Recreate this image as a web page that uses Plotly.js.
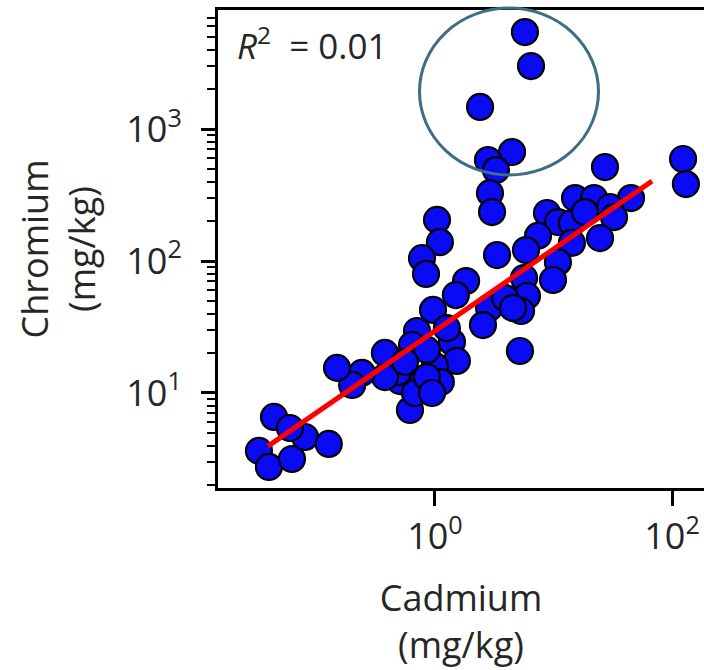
<!DOCTYPE html>
<html>
<head>
<meta charset="utf-8">
<script src="https://cdn.plot.ly/plotly-3.0.1.min.js"></script>
<style>
  html, body { margin: 0; padding: 0; background: #ffffff; }
  #chart { width: 704px; height: 670px; }
</style>
</head>
<body>
<div id="chart"></div>
<script>
// Soil sample concentrations (mg/kg)
const cadmium = [
  5.74, 6.46, 2.40, 4.47, 2.80, 3.27, 2.91, 3.03, 1.04, 1.10,
  0.777, 0.84, 3.34, 27.2, 124, 131, 15.2, 22.0, 45.1, 30.0,
  8.81, 10.9, 14.3, 32.4, 24.7, 7.40, 5.86, 14.3, 10.9, 5.64,
  9.9, 5.97, 5.32, 5.21, 1.83, 1.50, 0.962, 2.86, 2.54, 1.39,
  1.53, 1.0, 0.705, 0.64, 0.378, 0.855, 0.507, 1.12, 0.487, 0.777,
  0.615, 0.378, 0.242, 0.20, 0.149, 0.678, 0.855, 0.0438, 0.0327, 0.0397,
  0.0621, 0.080, 0.127, 0.0597, 0.944, 1.26, 3.90, 4.55, 18.4, 0.558
];
const chromium = [
  5430, 3000, 1470, 670, 582, 489, 327, 235, 205, 139,
  105, 79.8, 111, 515, 593, 383, 300, 300, 300, 256,
  231, 197, 194, 215, 149, 155, 121, 137, 98, 74.3,
  71.8, 54.3, 41.8, 20.8, 70.5, 55.2, 42.6, 44.1, 32.7, 24.3,
  17.5, 16.0, 29.5, 23.1, 20.1, 21.2, 12.3, 12.1, 14.4, 11.9,
  7.43, 13.2, 14.2, 11.5, 15.5, 10.0, 13.2, 6.58, 3.64, 2.75,
  3.16, 4.64, 4.11, 5.43, 10.0, 31.0, 52.5, 44.1, 235, 17.2
];

// Fitted trend line end points (mg/kg)
const fitCadmium = [0.039, 67.8];
const fitChromium = [3.96, 403];

const rSquared = '0.01';

// Tick labels
const xTickVals = [1, 100];
const xTickText = ['10<sup>0</sup>', '10<sup>2</sup>'];
const yTickVals = [10, 100, 1000];
const yTickText = ['10<sup>1</sup>', '10<sup>2</sup>', '10<sup>3</sup>'];

// Minor ticks at 2..9 within each decade of the chromium axis
const yMinorVals = [];
[1, 10, 100, 1000].forEach(function (d) {
  for (let k = 2; k <= 9; k++) yMinorVals.push(k * d);
});

const textColor = '#262626';
const fontFamily = '"Open Sans", "Noto Sans", "DejaVu Sans", sans-serif';

const traces = [
  {
    x: cadmium,
    y: chromium,
    type: 'scatter',
    mode: 'markers',
    marker: {
      size: 26,
      color: '#0a0af5',
      line: { color: '#000000', width: 2.2 }
    },
    cliponaxis: false,
    hoverinfo: 'x+y'
  },
  {
    x: fitCadmium,
    y: fitChromium,
    type: 'scatter',
    mode: 'lines',
    line: { color: '#ff0000', width: 5 },
    hoverinfo: 'skip'
  }
];

const layout = {
  width: 704,
  height: 670,
  margin: { l: 218, r: 0, t: 10, b: 182, pad: 0 },
  paper_bgcolor: '#ffffff',
  plot_bgcolor: '#ffffff',
  showlegend: false,
  font: { family: fontFamily, color: textColor, size: 36 },
  xaxis: {
    type: 'log',
    range: [-1.831, 2.270],
    tickmode: 'array',
    tickvals: xTickVals,
    ticktext: xTickText,
    ticks: 'outside',
    ticklen: 15,
    tickwidth: 3,
    tickcolor: '#000000',
    showline: true,
    linewidth: 3,
    linecolor: '#000000',
    mirror: true,
    showgrid: false,
    zeroline: false,
    automargin: false,
    tickfont: { family: fontFamily, size: 36, color: textColor },
    title: {
      text: 'Cadmium<br>(mg/kg)',
      font: { family: fontFamily, size: 36, color: textColor },
      standoff: 27
    }
  },
  yaxis: {
    type: 'log',
    range: [0.280, 3.902],
    tickmode: 'array',
    tickvals: yTickVals,
    ticktext: yTickText,
    ticks: 'outside',
    ticklen: 14,
    tickwidth: 3,
    tickcolor: '#000000',
    ticklabelstandoff: 12,
    minor: {
      tickmode: 'array',
      tickvals: yMinorVals,
      ticks: 'outside',
      ticklen: 8,
      tickwidth: 2,
      tickcolor: '#000000',
      showgrid: false
    },
    showline: true,
    linewidth: 3,
    linecolor: '#000000',
    mirror: false,
    showgrid: false,
    zeroline: false,
    automargin: false,
    tickfont: { family: fontFamily, size: 36, color: textColor },
    title: {
      text: 'Chromium<br>(mg/kg)',
      font: { family: fontFamily, size: 36, color: textColor },
      standoff: 20
    }
  },
  annotations: [
    {
      xref: 'paper', yref: 'paper',
      x: 0.035, y: 0.93,
      xanchor: 'left', yanchor: 'middle',
      text: '<i>R</i><sup>2</sup>&nbsp; = ' + rSquared,
      showarrow: false,
      font: { family: fontFamily, size: 35, color: textColor }
    }
  ],
  shapes: [
    {
      // highlight around the high-chromium samples
      type: 'circle',
      xref: 'paper', yref: 'paper',
      x0: 0.4146, x1: 0.7829,
      y0: 0.6548, y1: 1.004,
      line: { color: '#3e6d85', width: 3 },
      fillcolor: 'rgba(0,0,0,0)'
    }
  ]
};

Plotly.newPlot('chart', traces, layout, { staticPlot: true, displayModeBar: false });
</script>
</body>
</html>
